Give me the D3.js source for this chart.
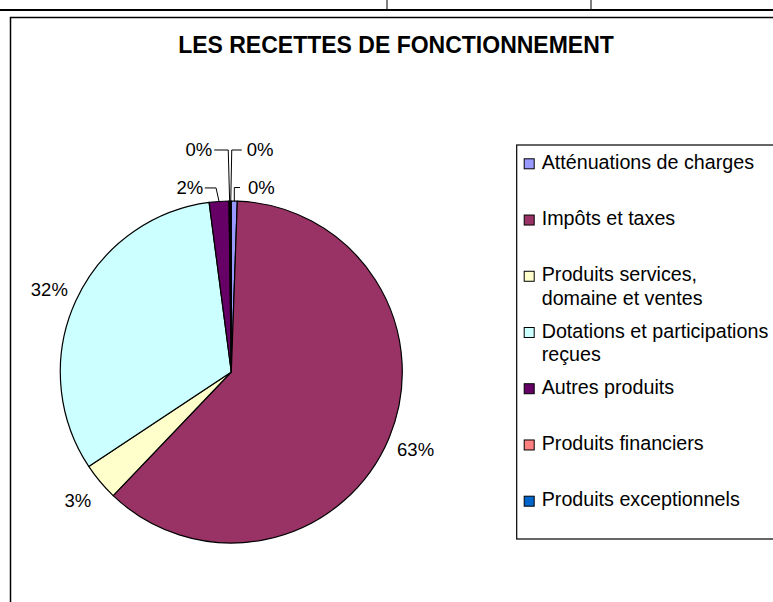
<!DOCTYPE html>
<html>
<head>
<meta charset="UTF-8">
<title>Les recettes de fonctionnement</title>
<script src="https://d3js.org/d3.v7.min.js"></script>
<style>
  body { margin: 0; background: #fff; }
  svg { display: block; font-family: "Liberation Sans", Arial, sans-serif; }
</style>
</head>
<body>
<svg id="chart" width="773" height="602"></svg>
<script>
// data (share of the circle, in %)
var categories = ["Atténuations de charges", "Impôts et taxes", "Produits services, domaine et ventes",
                  "Dotations et participations reçues", "Autres produits", "Produits financiers",
                  "Produits exceptionnels"];
var legendLines = [["Atténuations de charges"], ["Impôts et taxes"], ["Produits services,", "domaine et ventes"],
                   ["Dotations et participations", "reçues"], ["Autres produits"], ["Produits financiers"],
                   ["Produits exceptionnels"]];
var values = [0.56, 61.58, 3.55, 32.24, 1.86, 0.11, 0.10];
var labels = ["0%", "63%", "3%", "32%", "2%", "0%", "0%"];
var colors = ["#9999FF", "#993366", "#FFFFCC", "#CCFFFF", "#660066", "#FF8080", "#0066CC"];

var svg = d3.select("#chart");

// page lines above the chart
svg.append("line").attr("x1", 0).attr("x2", 773).attr("y1", 10).attr("y2", 10)
   .attr("stroke", "#000").attr("stroke-width", 2);
[387, 591].forEach(function(x){
  svg.append("line").attr("x1", x).attr("x2", x).attr("y1", 0).attr("y2", 10)
     .attr("stroke", "#000").attr("stroke-width", 1);
});

// chart frame
svg.append("rect").attr("x", 10.5).attr("y", 17.5).attr("width", 800).attr("height", 620)
   .attr("fill", "none").attr("stroke", "#000").attr("stroke-width", 1.5);

svg.append("text")
   .attr("x", 396).attr("y", 53)
   .attr("text-anchor", "middle")
   .style("font-size", "23px").style("font-weight", "bold")
   .text("LES RECETTES DE FONCTIONNEMENT");

// pie
var cx = 231.3, cy = 372, r = 171;
var arcs = d3.pie().sort(null).value(function(d){ return d; })(values);
var arc = d3.arc().innerRadius(0).outerRadius(r);
var labelArc = d3.arc().innerRadius(200).outerRadius(200);

var plot = svg.append("g").attr("transform", "translate(" + cx + "," + cy + ")");

plot.selectAll("path")
  .data(arcs)
  .enter()
  .append("path")
  .attr("d", arc)
  .attr("fill", function(d, i){ return colors[i]; })
  .attr("stroke", "#000")
  .attr("stroke-width", 1.2)
  .attr("stroke-linejoin", "round");

// small slices get a leader line, big ones sit outside the arc
var leaders = {
  0: {side: 1, lift: 13.5, lean: 0, run: 5.7, gap: 8},
  4: {side: -1, lift: 13.5, lean: -3, run: 11.3, gap: 1.5},
  5: {side: -1, lift: 51, lean: -1.4, run: 14, gap: 2},
  6: {side: 1, lift: 51, lean: 1, run: 10, gap: 5}
};

arcs.forEach(function(d, i){
  var mid = (d.startAngle + d.endAngle) / 2;
  var spec = leaders[i];
  if (!spec) {
    var c = labelArc.centroid(d);
    plot.append("text")
      .attr("x", c[0]).attr("y", c[1]).attr("dy", "0.35em")
      .attr("text-anchor", "middle")
      .style("font-size", "18.5px")
      .text(labels[i]);
    return;
  }
  var px = r * Math.sin(mid), py = -r * Math.cos(mid);
  var ex = px + spec.lean, ey = py - spec.lift;
  var tx = ex + spec.side * spec.run;
  plot.append("polyline")
    .attr("points", [[px, py], [ex, ey], [tx, ey]].map(function(p){ return p.join(","); }).join(" "))
    .attr("fill", "none").attr("stroke", "#000").attr("stroke-width", 1);
  plot.append("text")
    .attr("x", tx + spec.side * spec.gap).attr("y", ey).attr("dy", "0.35em")
    .attr("text-anchor", spec.side > 0 ? "start" : "end")
    .style("font-size", "18.5px")
    .text(labels[i]);
});

// legend
var legend = svg.append("g").attr("transform", "translate(516.7,145)");
legend.append("rect").attr("x", 0).attr("y", 0).attr("width", 300).attr("height", 394)
  .attr("fill", "#fff").attr("stroke", "#000").attr("stroke-width", 1.2);

var rowY = d3.scalePoint().domain(d3.range(categories.length)).range([13.3, 350.7]);

var rows = legend.selectAll("g.row")
  .data(categories)
  .enter()
  .append("g")
  .attr("class", "row")
  .attr("transform", function(d, i){ return "translate(0," + rowY(i) + ")"; });

rows.append("rect")
  .attr("x", 7.5).attr("y", 0.5).attr("width", 10).attr("height", 10)
  .attr("fill", function(d, i){ return colors[i]; })
  .attr("stroke", "#000").attr("stroke-width", 1);

rows.append("text")
  .attr("x", 25).attr("y", 10.5)
  .style("font-size", "19.7px")
  .selectAll("tspan")
  .data(function(d, i){ return legendLines[i]; })
  .enter()
  .append("tspan")
  .attr("x", 25)
  .attr("dy", function(d, j){ return j === 0 ? 0 : 23.5; })
  .text(function(d){ return d; });
</script>
</body>
</html>
